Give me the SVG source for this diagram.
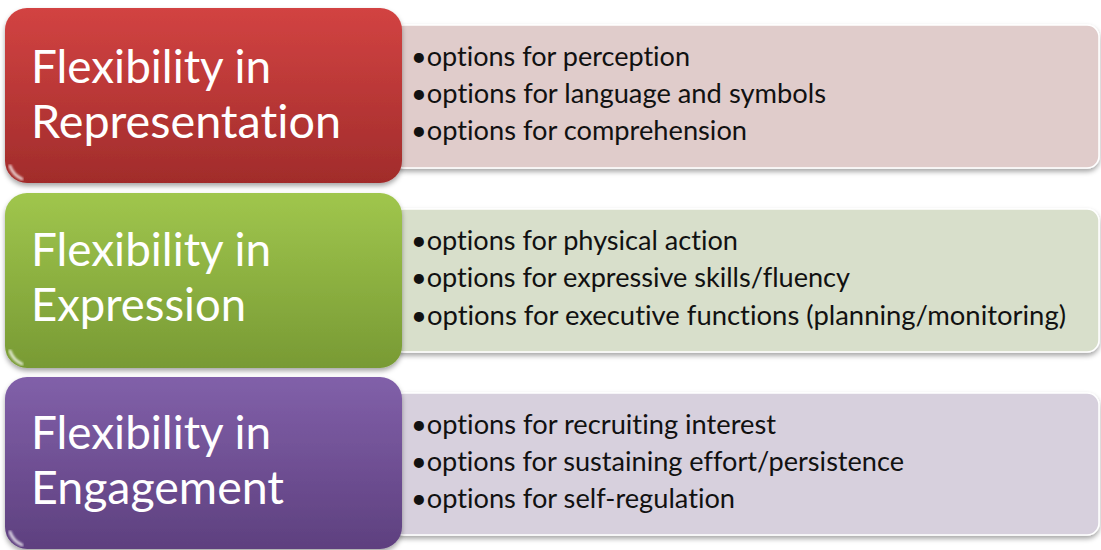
<svg xmlns="http://www.w3.org/2000/svg" width="1101" height="550" viewBox="0 0 1101 550">
<style>
text{font-variant-ligatures:none;font-feature-settings:"liga" 0,"clig" 0}
.title{font-family:"Lato","Open Sans","Liberation Sans",sans-serif;font-size:46px;fill:#ffffff}
.item{font-family:"Lato","Open Sans","Liberation Sans",sans-serif;font-size:26px;fill:#111111}
.panel{stroke:#ffffff;stroke-width:1.5}
.gloss{fill:none;stroke:#ffffff;stroke-opacity:0.4;stroke-width:3;stroke-linecap:round}
.bevel{fill:none;stroke:#ffffff;stroke-opacity:0.75;stroke-width:3;stroke-linecap:round}
</style>
<defs>
<linearGradient id="gRed" x1="0" y1="0" x2="0" y2="1"><stop offset="0" stop-color="#d24342"/><stop offset="1" stop-color="#a12c2b"/></linearGradient>
<linearGradient id="gGreen" x1="0" y1="0" x2="0" y2="1"><stop offset="0" stop-color="#a0c64d"/><stop offset="1" stop-color="#789a34"/></linearGradient>
<linearGradient id="gPurple" x1="0" y1="0" x2="0" y2="1"><stop offset="0" stop-color="#8160a9"/><stop offset="1" stop-color="#5e407f"/></linearGradient>
<filter id="sh" x="-5%" y="-10%" width="110%" height="130%"><feDropShadow dx="0" dy="3" stdDeviation="2.5" flood-color="#000" flood-opacity="0.35"/></filter>
<filter id="blur"><feGaussianBlur stdDeviation="1"/></filter>
</defs>
<rect width="1101" height="550" fill="#ffffff"/>

<g id="panel-representation">
<rect class="panel" x="392" y="25" width="707" height="143" rx="12" fill="#e0cccb" filter="url(#sh)"/>
<text class="item" x="411" y="66" textLength="279" lengthAdjust="spacingAndGlyphs">•options for perception</text>
<text class="item" x="411" y="103" textLength="415" lengthAdjust="spacingAndGlyphs">•options for language and symbols</text>
<text class="item" x="411" y="140" textLength="336" lengthAdjust="spacingAndGlyphs">•options for comprehension</text>
</g>
<g id="node-representation">
<rect x="5" y="8" width="397" height="175" rx="22" fill="url(#gRed)" filter="url(#sh)"/>
<path class="gloss" d="M30 15 H378" filter="url(#blur)"/>
<path class="bevel" d="M10 166 Q13 175 22 179" filter="url(#blur)"/>
<text class="title" x="31" y="83" textLength="240" lengthAdjust="spacingAndGlyphs">Flexibility in</text>
<text class="title" x="31" y="138" textLength="310" lengthAdjust="spacingAndGlyphs">Representation</text>
</g>

<g id="panel-expression">
<rect class="panel" x="392" y="209" width="707" height="143" rx="12" fill="#d8dfcb" filter="url(#sh)"/>
<text class="item" x="411" y="250" textLength="327" lengthAdjust="spacingAndGlyphs">•options for physical action</text>
<text class="item" x="411" y="287" textLength="439" lengthAdjust="spacingAndGlyphs">•options for expressive skills/fluency</text>
<text class="item" x="411" y="325" textLength="655" lengthAdjust="spacingAndGlyphs">•options for executive functions (planning/monitoring)</text>
</g>
<g id="node-expression">
<rect x="5" y="193" width="397" height="175" rx="22" fill="url(#gGreen)" filter="url(#sh)"/>
<path class="gloss" d="M30 200 H378" filter="url(#blur)"/>
<path class="bevel" d="M10 351 Q13 360 22 364" filter="url(#blur)"/>
<text class="title" x="31" y="266" textLength="240" lengthAdjust="spacingAndGlyphs">Flexibility in</text>
<text class="title" x="31" y="321" textLength="215" lengthAdjust="spacingAndGlyphs">Expression</text>
</g>

<g id="panel-engagement">
<rect class="panel" x="392" y="393" width="707" height="142" rx="12" fill="#d7d0dd" filter="url(#sh)"/>
<text class="item" x="411" y="434" textLength="365" lengthAdjust="spacingAndGlyphs">•options for recruiting interest</text>
<text class="item" x="411" y="471" textLength="493" lengthAdjust="spacingAndGlyphs">•options for sustaining effort/persistence</text>
<text class="item" x="411" y="508" textLength="324" lengthAdjust="spacingAndGlyphs">•options for self-regulation</text>
</g>
<g id="node-engagement">
<rect x="5" y="377" width="397" height="172" rx="22" fill="url(#gPurple)" filter="url(#sh)"/>
<path class="gloss" d="M30 384 H378" filter="url(#blur)"/>
<path class="bevel" d="M10 532 Q13 541 22 545" filter="url(#blur)"/>
<text class="title" x="31" y="449" textLength="240" lengthAdjust="spacingAndGlyphs">Flexibility in</text>
<text class="title" x="31" y="504" textLength="253" lengthAdjust="spacingAndGlyphs">Engagement</text>
</g>

<g id="connectors"></g>
</svg>
